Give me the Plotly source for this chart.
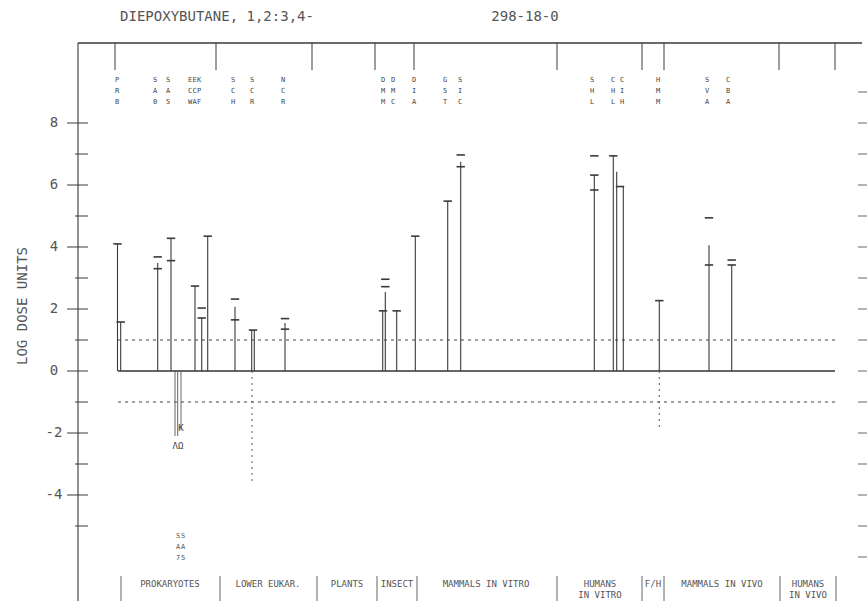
import plotly.graph_objects as go

# ---------------- data ----------------
title_left = "DIEPOXYBUTANE, 1,2:3,4-"
title_right = "298-18-0"
y_title = "LOG DOSE UNITS"
major_ticks = [-4, -2, 0, 2, 4, 6, 8]
minor_ticks = [-5, -3, -1, 1, 3, 5, 7]
right_ticks = [-6, -5, -4, -3, -2, -1, 0, 1, 2, 3, 4, 5, 6, 7, 8, 9]

# positive bars: horizontal position on the profile and log dose value
bar_x = [117.5, 120.7, 157.7, 171, 195, 201.7, 207.7, 235, 251.7, 254.3, 285,
         382.7, 385.3, 396.7, 415.3, 447.7, 460.7, 594.3, 613.3, 616.7, 623.3,
         659.3, 709, 731.7]
bar_y = [4.10, 1.58, 3.48, 4.28, 2.74, 1.71, 4.35, 2.07, 1.32, 1.32, 1.55,
         1.94, 2.55, 1.94, 4.35, 5.48, 6.75, 6.32, 6.94, 6.43, 5.95,
         2.27, 4.06, 3.42]

# negative bars
neg_x = [175, 177.7, 181]
neg_y = [-2.1, -2.1, -1.9]

# dotted negative extensions
dot_x = [252, 659.3]
dot_y = [-3.65, -1.84]

# short horizontal marks (dose results)
mark_x = [117.5, 120.7, 157.7, 157.7, 171, 171, 195, 201.7, 201.7, 207.7,
          235, 235, 253, 285, 285, 383, 385.3, 385.3, 396.7, 415.3, 447.7,
          460.7, 460.7, 594.3, 594.3, 594.3, 613.3, 620, 659.3, 709, 709,
          731.7, 731.7]
mark_y = [4.10, 1.58, 3.68, 3.30, 4.28, 3.56, 2.74, 2.03, 1.71, 4.35,
          2.32, 1.65, 1.32, 1.69, 1.35, 1.94, 2.72, 2.96, 1.94, 4.35, 5.48,
          6.97, 6.59, 6.94, 6.32, 5.84, 6.94, 5.95, 2.27, 4.94, 3.42,
          3.58, 3.42]

# test codes above bars
code_x = [117, 155, 168, 190, 194.5, 199, 233, 252, 283, 383, 393, 414,
          445, 460, 592, 613, 622, 658, 707, 728]
codes = ["PRB", "SA0", "SA5", "ECW", "ECA", "KPF", "SCH", "SCR", "NCR",
         "DMM", "DMC", "DIA", "G5T", "SIC", "SHL", "CHL", "CIH", "HMM",
         "SVA", "CBA"]
low_code_x = [178, 183]
low_codes = ["SA7", "SA5"]

# phylogenetic groups
top_div_x = [115, 216, 312, 375, 414, 557, 642, 664, 779, 835]
bot_div_x = [121, 220, 317, 377, 417, 557, 642, 664, 780, 836]
group_x = [170, 268, 347, 397, 486, 600, 653, 722, 808]
group_l1 = ["PROKARYOTES", "LOWER EUKAR.", "PLANTS", "INSECT",
            "MAMMALS IN VITRO", "HUMANS", "F/H", "MAMMALS IN VIVO", "HUMANS"]
group_l2 = ["", "", "", "", "", "IN VITRO", "", "", "IN VIVO"]

# ---------------- geometry ----------------
PX = 31.0          # pixels per log unit
Y0 = 371.0         # pixel row of zero
H = 602
def yp(p):         # pixel row -> value
    return (Y0 - p) / PX

AX = 78            # axis column
X_L, X_R = 118, 835
TOP = yp(43)
BOT = yp(601)

INK = "#3a3a3a"
FONT = "DejaVu Sans Mono"

def segs(xs0, ys0, xs1, ys1):
    X, Y = [], []
    for a, b, c, d in zip(xs0, ys0, xs1, ys1):
        X += [a, c, None]
        Y += [b, d, None]
    return X, Y

fig = go.Figure()

def add_lines(X, Y, width=1.0, color=INK, dash=None):
    fig.add_trace(go.Scatter(x=X, y=Y, mode="lines", hoverinfo="skip",
                             line=dict(color=color, width=width, dash=dash),
                             showlegend=False))

def add_text(X, Y, T, size, color=INK):
    fig.add_trace(go.Scatter(x=X, y=Y, text=T, mode="text", hoverinfo="skip",
                             textfont=dict(family=FONT, size=size, color=color),
                             showlegend=False))

# frame: top line and left axis
add_lines([AX, 862], [TOP, TOP], 1.3)
add_lines([AX, AX], [TOP, BOT], 1.1)

# left ticks
X, Y = segs([AX - 11] * len(major_ticks), major_ticks,
            [AX + 10] * len(major_ticks), major_ticks)
add_lines(X, Y, 1.0)
X, Y = segs([AX - 3] * len(minor_ticks), minor_ticks,
            [AX + 10] * len(minor_ticks), minor_ticks)
add_lines(X, Y, 1.0)
# right ticks
X, Y = segs([858] * len(right_ticks), right_ticks,
            [867] * len(right_ticks), right_ticks)
add_lines(X, Y, 1.0, "#666")

# tick labels
add_text([54] * len(major_ticks), major_ticks, [str(v) for v in major_ticks], 14, "#555")

# top and bottom group dividers
X, Y = segs(top_div_x, [TOP] * len(top_div_x), top_div_x, [yp(70)] * len(top_div_x))
add_lines(X, Y, 1.0)
X, Y = segs(bot_div_x, [yp(576)] * len(bot_div_x), bot_div_x, [BOT] * len(bot_div_x))
add_lines(X, Y, 0.9, "#555")

# reference lines
add_lines([X_L, X_R], [1, 1], 1.0, "#444", "3px,4px")
add_lines([X_L, X_R], [-1, -1], 1.0, "#444", "3px,4px")
add_lines([X_L, X_R], [0, 0], 1.4, "#333")

# bars
X, Y = segs(bar_x, [0] * len(bar_x), bar_x, bar_y)
add_lines(X, Y, 1.1)
X, Y = segs(neg_x, [0] * len(neg_x), neg_x, neg_y)
add_lines(X, Y, 0.9, "#555")
X, Y = segs(dot_x, [0] * len(dot_x), dot_x, dot_y)
add_lines(X, Y, 1.0, "#555", "2px,4px")

# marks
fig.add_trace(go.Scatter(x=mark_x, y=mark_y, mode="markers", hoverinfo="skip",
                         marker=dict(symbol="line-ew", size=6,
                                     line=dict(color=INK, width=1.6)),
                         showlegend=False))

# negative symbols
add_text([181, 178], [-1.85, -2.45], ["K", "ΛΩ"], 9, "#444")

# codes above bars (three stacked letters)
for row, pr in enumerate([80, 91, 102]):
    add_text(code_x, [yp(pr)] * len(code_x), [c[row] for c in codes], 7, "#444")
for row, pr in enumerate([536, 547, 558]):
    add_text(low_code_x, [yp(pr)] * len(low_code_x), [c[row] for c in low_codes], 7, "#555")

# group labels
add_text(group_x, [yp(585)] * len(group_x), group_l1, 9, "#555")
add_text(group_x, [yp(596)] * len(group_x), group_l2, 9, "#555")

# titles
add_text([217, 525], [yp(17)] * 2, [title_left, title_right], 14, "#555")

fig.add_annotation(x=22, y=yp(306), xref="x", yref="y", text=y_title,
                   textangle=-90, showarrow=False,
                   font=dict(family=FONT, size=14, color="#555"))

fig.update_layout(
    width=867, height=602,
    margin=dict(l=0, r=0, t=0, b=0),
    paper_bgcolor="white", plot_bgcolor="white",
    xaxis=dict(range=[0, 867], visible=False, fixedrange=True),
    yaxis=dict(range=[yp(H), yp(0)], visible=False, fixedrange=True),
)

fig.write_html("out.html",
               config={"displayModeBar": False},
               post_script="document.body.style.margin='0px';document.body.style.overflow='hidden';")
